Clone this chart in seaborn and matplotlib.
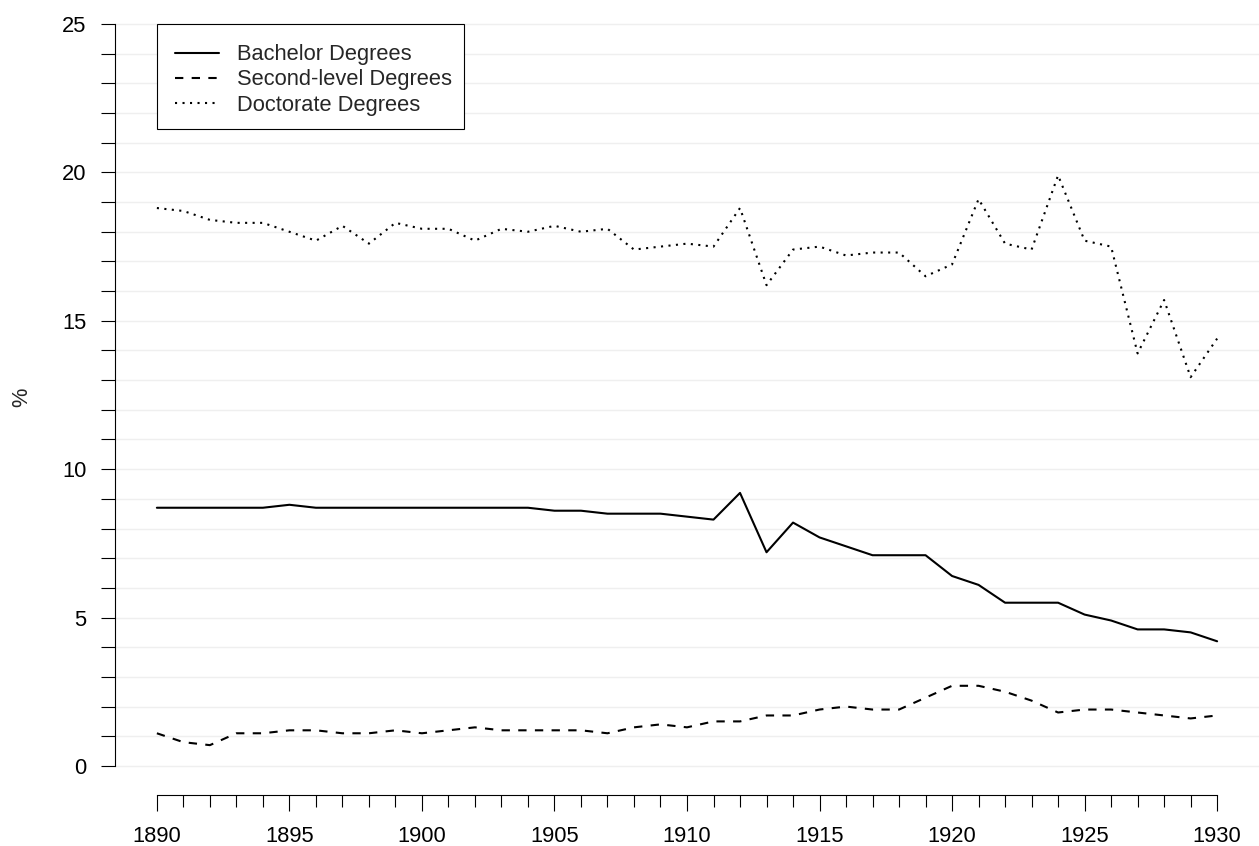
import matplotlib
matplotlib.use("Agg")
import matplotlib.pyplot as plt
from matplotlib.ticker import MultipleLocator, FixedLocator
from matplotlib.patches import Rectangle
import seaborn as sns
import pandas as pd

years = list(range(1890, 1931))
bachelor = [8.7, 8.7, 8.7, 8.7, 8.7, 8.8, 8.7, 8.7, 8.7, 8.7,
            8.7, 8.7, 8.7, 8.7, 8.7, 8.6, 8.6, 8.5, 8.5, 8.5,
            8.4, 8.3, 9.2, 7.2, 8.2, 7.7, 7.4, 7.1, 7.1, 7.1,
            6.4, 6.1, 5.5, 5.5, 5.5, 5.1, 4.9, 4.6, 4.6, 4.5, 4.2]
second = [1.1, 0.8, 0.7, 1.1, 1.1, 1.2, 1.2, 1.1, 1.1, 1.2,
          1.1, 1.2, 1.3, 1.2, 1.2, 1.2, 1.2, 1.1, 1.3, 1.4,
          1.3, 1.5, 1.5, 1.7, 1.7, 1.9, 2.0, 1.9, 1.9, 2.3,
          2.7, 2.7, 2.5, 2.2, 1.8, 1.9, 1.9, 1.8, 1.7, 1.6, 1.7]
doctorate = [18.8, 18.7, 18.4, 18.3, 18.3, 18.0, 17.7, 18.2, 17.6, 18.3,
             18.1, 18.1, 17.7, 18.1, 18.0, 18.2, 18.0, 18.1, 17.4, 17.5,
             17.6, 17.5, 18.8, 16.2, 17.4, 17.5, 17.2, 17.3, 17.3, 16.5,
             16.9, 19.1, 17.6, 17.4, 19.9, 17.7, 17.5, 13.9, 15.7, 13.1, 14.4]
series_names = ["Bachelor Degrees", "Second-level Degrees", "Doctorate Degrees"]
ylabel_text = "%"

df = pd.concat([
    pd.DataFrame({"Year": years, "Value": vals, "Series": name})
    for name, vals in zip(series_names, [bachelor, second, doctorate])
], ignore_index=True)

sns.set_style("white")
plt.rcParams["font.family"] = ["Liberation Sans", "DejaVu Sans"]
FS = 15.75

W, H = 1259, 846
AX_BOTTOM_PX = 51           # x-axis line at y=795
AX_H_PX = H - AX_BOTTOM_PX
fig = plt.figure(figsize=(W / 100, H / 100), dpi=100)
ax = fig.add_axes([115 / W, AX_BOTTOM_PX / H, 1144 / W, AX_H_PX / H])

lw = 1.5
dashes = {series_names[0]: "", series_names[1]: (4, 4), series_names[2]: (1, 2.6)}
sns.lineplot(data=df, x="Year", y="Value", style="Series", dashes=dashes,
             color="black", linewidth=lw, ax=ax, legend=True)

ax.set_xlim(1888.42, 1931.58)
ax.set_ylim(-0.98, 25.81)

for s in ["top", "right"]:
    ax.spines[s].set_visible(False)
ax.spines["left"].set_bounds(0, 25)
ax.spines["bottom"].set_bounds(years[0], years[-1])
for s in ["left", "bottom"]:
    ax.spines[s].set_color("black")
    ax.spines[s].set_linewidth(0.8)

ax.xaxis.set_major_locator(MultipleLocator(5))
ax.xaxis.set_minor_locator(FixedLocator([y for y in years if y % 5]))
ax.yaxis.set_major_locator(MultipleLocator(5))
ax.yaxis.set_minor_locator(FixedLocator([v for v in range(0, 26) if v % 5]))
ax.tick_params(axis="both", which="both", direction="out", width=0.8,
               color="black", labelsize=FS, labelcolor="black")
ax.tick_params(axis="x", which="both", bottom=True, top=False)
ax.tick_params(axis="y", which="both", left=True, right=False)
ax.tick_params(axis="x", which="major", length=11.5, pad=10.5)
ax.tick_params(axis="x", which="minor", length=8.5)
ax.tick_params(axis="y", which="both", length=10, pad=10.5)

ax.grid(False)
ax.yaxis.grid(True, which="both", color="#efefef", linewidth=1.0)
ax.set_axisbelow(True)

ax.set_xlabel("")
ax.set_ylabel(ylabel_text, fontsize=FS)
ax.yaxis.set_label_coords(-0.072, 0.5)

# legend frame drawn as a rectangle, legend text placed inside
box = Rectangle((157 / W, (H - 129) / H), 307 / W, 105 / H,
                transform=fig.transFigure, facecolor="white",
                edgecolor="black", linewidth=0.8, zorder=4)
ax.add_patch(box)

handles, labels = ax.get_legend_handles_labels()
leg = ax.legend(handles, labels, loc="upper left",
                bbox_to_anchor=((160 - 115) / 1144, (AX_H_PX - 29) / AX_H_PX),
                borderaxespad=0, fontsize=FS, frameon=False,
                borderpad=0.7, labelspacing=0.19, handlelength=2.0,
                handletextpad=0.84)
leg.set_zorder(5)

fig.savefig("out.png", dpi=100)
